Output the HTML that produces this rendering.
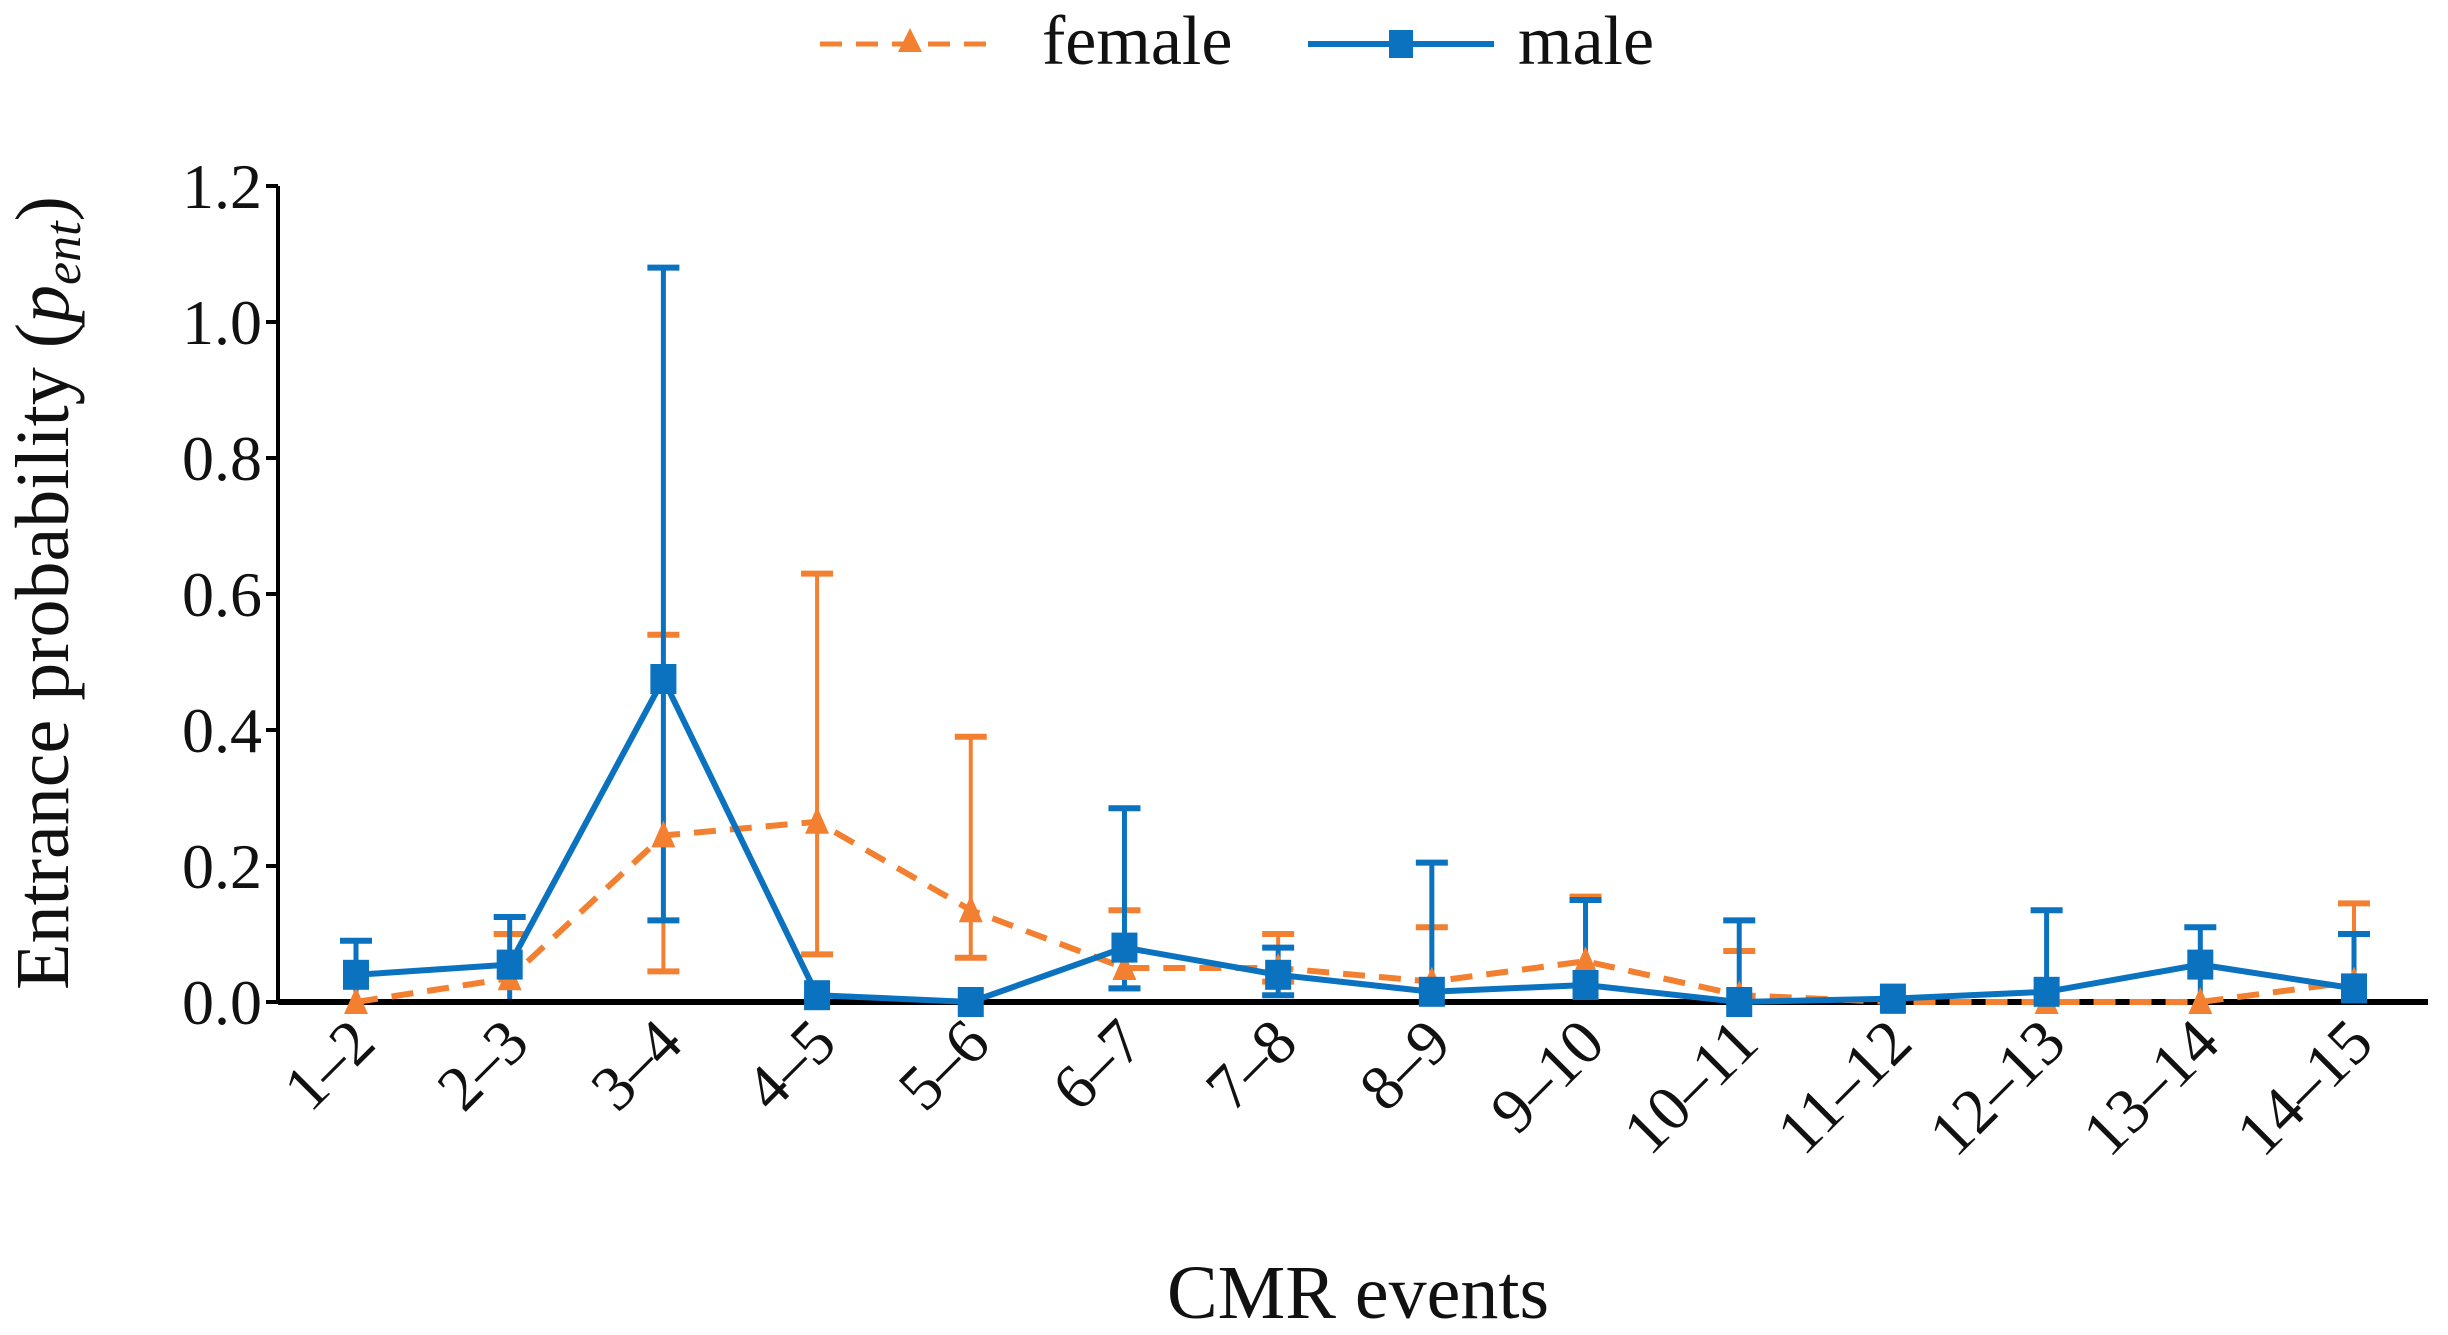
<!DOCTYPE html>
<html><head><meta charset="utf-8"><style>
html,body{margin:0;padding:0;background:#fff;}
svg{display:block;font-family:"Liberation Serif",serif;}
</style></head><body>
<svg id="chart" width="2448" height="1335" viewBox="0 0 2448 1335" xmlns="http://www.w3.org/2000/svg">
<g>
  <g>
    <line x1="820" y1="44" x2="1000" y2="44" stroke="#F28030" stroke-width="5" stroke-dasharray="22,14"/>
    <polygon points="910,28 898,52 922,52" fill="#F28030"/>
    <text x="1042" y="64" font-size="70" fill="#111">female</text>
  </g>
  <g>
    <line x1="1308" y1="44" x2="1494" y2="44" stroke="#0A72BE" stroke-width="6"/>
    <rect x="1389" y="30" width="24" height="28" fill="#0A72BE"/>
    <text x="1518" y="64" font-size="70" fill="#111">male</text>
  </g>
</g>
<text transform="translate(68,593) rotate(-90)" text-anchor="middle" font-size="76" fill="#111">Entrance probability (<tspan font-style="italic">p<tspan font-size="52" dy="12">ent</tspan></tspan><tspan dy="-12">)</tspan></text>
<text x="1358" y="1318" text-anchor="middle" font-size="76" fill="#111">CMR events</text>
<g id="axes"></g>
<g id="marks"></g>
</svg>
<script>
const categories = ["1–2","2–3","3–4","4–5","5–6","6–7","7–8","8–9","9–10","10–11","11–12","12–13","13–14","14–15"];
const maleValues = [0.04,0.055,0.475,0.01,0.0,0.08,0.04,0.015,0.025,0.0,0.005,0.015,0.055,0.02];
const maleUpper = [0.09,0.125,1.08,0.01,0.0,0.285,0.08,0.205,0.15,0.12,0.005,0.135,0.11,0.1];
const maleLower = [0.0,0.0,0.12,0.01,0.0,0.02,0.01,0.015,0.0,0.0,0.005,0.015,0.0,0.02];
const femaleValues = [0.0,0.035,0.245,0.265,0.135,0.05,0.05,0.03,0.06,0.01,0.0,0.0,0.0,0.03];
const femaleUpper = [0.0,0.1,0.54,0.63,0.39,0.135,0.1,0.11,0.155,0.075,0.0,0.0,0.0,0.145];
const femaleLower = [0.0,0.0,0.045,0.07,0.065,0.02,0.03,0.03,0.06,0.01,0.0,0.0,0.0,0.03];
const yTicks = [0,0.2,0.4,0.6,0.8,1.0,1.2];
const yTickLabels = ["0.0","0.2","0.4","0.6","0.8","1.0","1.2"];

const NS="http://www.w3.org/2000/svg";
const X0=278,X1=2428,Y0=1002,Y1=186,CX0=356,CX1=2354;
function xs(i){return CX0+(CX1-CX0)*i/(categories.length-1);}
function ys(v){return Y0-(Y0-Y1)*v/1.2;}
function mk(tag,attrs,parent){const e=document.createElementNS(NS,tag);for(const k in attrs)e.setAttribute(k,attrs[k]);parent.appendChild(e);return e;}
const axes=document.getElementById('axes'),marks=document.getElementById('marks');

let yl=mk('line',{x1:X0,y1:Y1,x2:X0,y2:Y0,stroke:'#000','stroke-width':4},axes);


yTicks.forEach((t,i)=>{
  const tk=mk('line',{x1:X0-12,y1:ys(t),x2:X0,y2:ys(t),stroke:'#000','stroke-width':4},axes);
  
  
  const tx=mk('text',{x:X0-16,y:ys(t)+22,'text-anchor':'end','font-size':64,fill:'#111'},axes);
  tx.textContent=yTickLabels[i];
  
  
});
categories.forEach((c,i)=>{
  const tx=mk('text',{transform:`translate(${xs(i)+22},${Y0+44}) rotate(-45)`,'text-anchor':'end','font-size':64,fill:'#111'},axes);
  tx.textContent=c;
  
  
});

function errBars(vals,up,lo,color,w,name){
  vals.forEach((v,i)=>{
    const x=xs(i);
    if(up[i]>v+0.001){
      const l=mk('line',{x1:x,y1:ys(v),x2:x,y2:ys(up[i]),stroke:color,'stroke-width':w},marks);
      
      
      const c=mk('line',{x1:x-16,y1:ys(up[i]),x2:x+16,y2:ys(up[i]),stroke:color,'stroke-width':6},marks);
      
      
    }
    if(lo[i]<v-0.001){
      const l=mk('line',{x1:x,y1:ys(v),x2:x,y2:ys(lo[i]),stroke:color,'stroke-width':w},marks);
      
      
      const c=mk('line',{x1:x-16,y1:ys(lo[i]),x2:x+16,y2:ys(lo[i]),stroke:color,'stroke-width':6},marks);
      
      
    }
  });
}
errBars(femaleValues,femaleUpper,femaleLower,'#F28030',4,'female');
errBars(maleValues,maleUpper,maleLower,'#0A72BE',5,'male');

let xl=mk('line',{x1:X0,y1:Y0,x2:X1,y2:Y0,stroke:'#000','stroke-width':6},marks);



const fl=mk('polyline',{points:femaleValues.map((v,i)=>xs(i)+','+ys(v)).join(' '),fill:'none',stroke:'#F28030','stroke-width':6,'stroke-dasharray':'22,14'},marks);


femaleValues.forEach((v,i)=>{
  const x=xs(i),y=ys(v);
  const p=mk('polygon',{points:`${x},${y-15} ${x-12},${y+12} ${x+12},${y+12}`,fill:'#F28030'},marks);
  
  
});
const ml=mk('polyline',{points:maleValues.map((v,i)=>xs(i)+','+ys(v)).join(' '),fill:'none',stroke:'#0A72BE','stroke-width':6},marks);


maleValues.forEach((v,i)=>{
  const x=xs(i),y=ys(v);
  const r=mk('rect',{x:x-13,y:y-15,width:26,height:30,fill:'#0A72BE'},marks);
  
  
});
</script>
</body></html>
